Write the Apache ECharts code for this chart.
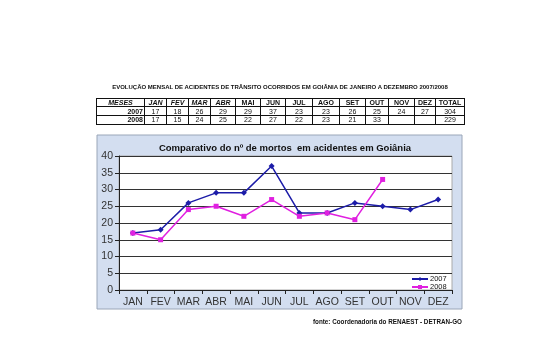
<!DOCTYPE html>
<html><head><meta charset="utf-8">
<script src="https://cdn.jsdelivr.net/npm/echarts@6/dist/echarts.min.js"></script>
<style>
html,body{margin:0;padding:0;background:#fff;}
#wrap{position:relative;width:550px;height:354px;overflow:hidden;}
#chart{position:absolute;left:0;top:0;width:550px;height:354px;}
#ttl{position:absolute;left:96px;width:368px;top:84px;text-align:center;font:bold 6px "Liberation Sans",Arial,sans-serif;color:#111;white-space:nowrap;}
table{position:absolute;left:96px;top:98px;border-collapse:collapse;font-family:"Liberation Sans",Arial,sans-serif;font-size:7px;color:#111;table-layout:fixed;}
td{border:1px solid #111;padding:0 1px;height:7.6px;line-height:7px;text-align:center;overflow:hidden;white-space:nowrap;}
tr.h td{border-width:1.5px;font-weight:bold;height:7.4px;}
td.i{font-style:italic;}
td.y{text-align:right;font-weight:bold;}
#src{position:absolute;left:300px;width:162px;top:318px;text-align:right;font:bold 6.3px "Liberation Sans",Arial,sans-serif;color:#111;white-space:nowrap;}
</style></head>
<body><div id="wrap"><div id="chart"></div>
<div id="ttl"></div>
<table id="tbl"></table>
<div id="src">fonte: Coordenadoria do RENAEST - DETRAN-GO</div>
</div>
<script>
var tableTitle = "EVOLUÇÃO MENSAL DE ACIDENTES DE TRÂNSITO OCORRIDOS EM GOIÂNIA DE JANEIRO A DEZEMBRO 2007/2008";
var months = ["JAN","FEV","MAR","ABR","MAI","JUN","JUL","AGO","SET","OUT","NOV","DEZ"];
var tableHeaderFirst = "MESES";
var tableHeaderLast = "TOTAL";
var seriesNames = ["2007","2008"];
var values2007 = [17,18,26,29,29,37,23,23,26,25,24,27];
var values2008 = [17,15,24,25,22,27,22,23,21,33,null,null];
var totals = [304,229];
var chartTitle = "Comparativo do nº de mortos  em acidentes em Goiânia";
var yTicks = {min:0, max:40, interval:5};

document.getElementById('ttl').textContent = tableTitle;
var colW = [48,22,22,22,25,25,25,27,27,26,23,26,21,29];
var tbl = document.getElementById('tbl');
var cg = '<colgroup>' + colW.map(function(w){return '<col style="width:'+w+'px">';}).join('') + '</colgroup>';
var italicCols = {0:1,1:1,2:1,3:1,4:1};
var h = '<tr class="h"><td class="i" style="text-align:center">'+tableHeaderFirst+'</td>';
months.forEach(function(m,i){ h += '<td'+(italicCols[i+1]?' class="i"':'')+'>'+m+'</td>'; });
h += '<td>'+tableHeaderLast+'</td></tr>';
[values2007, values2008].forEach(function(arr, k){
  h += '<tr><td class="y">'+seriesNames[k]+'</td>';
  arr.forEach(function(v){ h += '<td>'+(v==null?'':v)+'</td>'; });
  h += '<td>'+totals[k]+'</td></tr>';
});
tbl.innerHTML = cg + h;

var chart = echarts.init(document.getElementById('chart'), null, {renderer:'canvas'});
var font = '"Liberation Sans", Arial, sans-serif';
chart.setOption({
  animation:false,
  backgroundColor:'transparent',
  graphic:[{type:'rect', z:-10, shape:{x:97,y:135,width:365,height:174}, style:{fill:'#d3def0', stroke:'#9aa6b8', lineWidth:1}}],
  title:{text:chartTitle, left:280, top:138, textAlign:'center', textStyle:{fontFamily:font, fontSize:9.5, fontWeight:'bold', color:'#111'}},
  grid:{left:119, top:156, width:333, height:134, show:true, backgroundColor:'#fff', borderColor:'#aaa', borderWidth:1},
  legend:{data:seriesNames, orient:'vertical', left:411, top:275, itemGap:0, itemWidth:16, itemHeight:5,
    textStyle:{fontFamily:font, fontSize:7.5, color:'#111', padding:[0,0,0,-3]}, padding:0},
  xAxis:{type:'category', data:months, boundaryGap:true,
    axisLine:{lineStyle:{color:'#222'}}, axisTick:{show:true, length:4, lineStyle:{color:'#222'}},
    axisLabel:{interval:0, fontFamily:font, fontSize:10.5, color:'#333', margin:7}},
  yAxis:{type:'value', min:yTicks.min, max:yTicks.max, interval:yTicks.interval,
    axisLine:{show:true, lineStyle:{color:'#222'}}, axisTick:{show:true, length:4, lineStyle:{color:'#222'}},
    splitLine:{lineStyle:{color:'#333', width:1}},
    axisLabel:{fontFamily:font, fontSize:10.5, color:'#333', margin:6}},
  series:[
    {name:seriesNames[0], type:'line', data:values2007, symbol:'diamond', symbolSize:6, color:'#1c1ca8', lineStyle:{width:1.5}},
    {name:seriesNames[1], type:'line', data:values2008, symbol:'rect', symbolSize:5, color:'#e020e0', lineStyle:{width:1.5}}
  ]
});
</script></body></html>
